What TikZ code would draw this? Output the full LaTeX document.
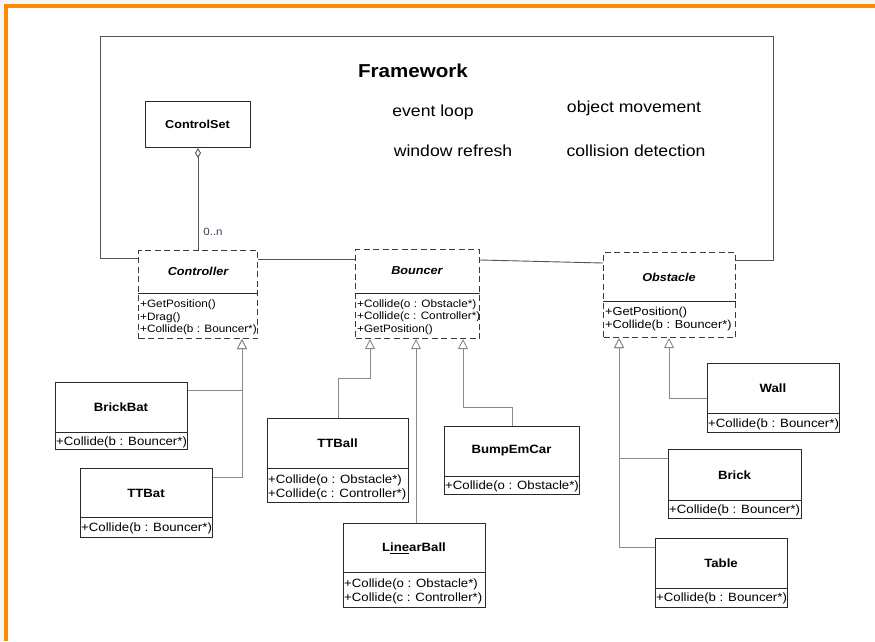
\documentclass[tikz,border=0pt]{standalone}
\usepackage{fontspec}
\setmainfont[FakeStretch=1.1]{Liberation Sans}
\usetikzlibrary{arrows.meta}
\definecolor{orng}{HTML}{FF8A00}
\definecolor{boxc}{HTML}{2A2A2A}
\definecolor{dashc}{HTML}{3A3A3A}
\definecolor{linec}{HTML}{8A8A8A}
\definecolor{framec}{HTML}{555555}
\definecolor{multc}{HTML}{3A3F55}
\definecolor{strip}{HTML}{F4F4F4}
\tikzset{
  cls/.style={draw=boxc, line width=1pt, fill=white, inner sep=0pt, anchor=north west},
  abscls/.style={draw=dashc, line width=1pt, dash pattern=on 6pt off 3.5pt, fill=white, inner sep=0pt, anchor=north west},
  divider/.style={draw=boxc, line width=1pt},
  ctitle/.style={font=\bfseries\fontsize{12}{13}\selectfont, inner sep=0pt},
  atitle/.style={font=\bfseries\itshape\fontsize{11.5}{13}\selectfont, inner sep=0pt},
  meth/.style={font=\fontsize{12}{13}\selectfont, anchor=base west, inner sep=0pt},
  ameth/.style={font=\fontsize{10.7}{13}\selectfont, anchor=base west, inner sep=0pt},
  ometh/.style={font=\fontsize{11.6}{13}\selectfont, anchor=base west, inner sep=0pt},
  inh/.style={draw=linec, line width=0.9pt, -{Triangle[open, length=10pt, width=10pt, fill=white]}},
  assoc/.style={draw=framec, line width=0.9pt},
  lbl/.style={font=\fontsize{16}{19}\selectfont, inner sep=0pt},
}
\begin{document}
\begin{tikzpicture}[x=1pt, y=-1pt]
\useasboundingbox (0,0) rectangle (875,641);
% background and orange slide border
\fill[strip] (0,0) rectangle (875,641);
\fill[white] (4,4) rectangle (875,641);
\fill[orng] (4,4) rectangle (875,7.5);
\fill[orng] (4,4) rectangle (7.5,641);

% class boxes
\node[cls, minimum width=105pt, minimum height=46pt] (controlset) at (145,101) {};
\node[ctitle, font=\bfseries\fontsize{11.5}{13}\selectfont] (controlsetT) at (197.5,124) {ControlSet};

\node[abscls, minimum width=119pt, minimum height=88pt] (controller) at (138,250) {};
\draw[divider] (controller.west |- 0,293) -- (controller.east |- 0,293);
\node[atitle] (controllerT) at (198,271) {Controller};
\node[ameth] (controllerM1) at (140,307.5) {+GetPosition()};
\node[ameth] (controllerM2) at (140,320) {+Drag()};
\node[ameth] (controllerM3) at (140,332.5) {+Collide(b : Bouncer*)};

\node[abscls, minimum width=124pt, minimum height=89pt] (bouncer) at (355,249) {};
\draw[divider] (bouncer.west |- 0,293) -- (bouncer.east |- 0,293);
\node[atitle] (bouncerT) at (417,271) {Bouncer};
\node[ameth] (bouncerM1) at (357,307) {+Collide(o : Obstacle*)};
\node[ameth] (bouncerM2) at (357,319.5) {+Collide(c : Controller*)};
\node[ameth] (bouncerM3) at (357,332) {+GetPosition()};

\node[abscls, minimum width=132pt, minimum height=85pt] (obstacle) at (603,252) {};
\draw[divider] (obstacle.west |- 0,301) -- (obstacle.east |- 0,301);
\node[atitle] (obstacleT) at (669,277) {Obstacle};
\node[ometh] (obstacleM1) at (605,315) {+GetPosition()};
\node[ometh] (obstacleM2) at (605,328) {+Collide(b : Bouncer*)};

\node[cls, minimum width=132pt, minimum height=67pt] (brickbat) at (55,382) {};
\draw[divider] (brickbat.west |- 0,432) -- (brickbat.east |- 0,432);
\node[ctitle] (brickbatT) at (121,407) {BrickBat};
\node[meth] (brickbatM) at (56,445) {+Collide(b : Bouncer*)};

\node[cls, minimum width=132pt, minimum height=69pt] (ttbat) at (80,468) {};
\draw[divider] (ttbat.west |- 0,517) -- (ttbat.east |- 0,517);
\node[ctitle] (ttbatT) at (146,493) {TTBat};
\node[meth] (ttbatM) at (81,531) {+Collide(b : Bouncer*)};

\node[cls, minimum width=141pt, minimum height=84pt] (ttball) at (267,418) {};
\draw[divider] (ttball.west |- 0,468) -- (ttball.east |- 0,468);
\node[ctitle] (ttballT) at (337.5,443) {TTBall};
\node[meth] (ttballM1) at (268,483.5) {+Collide(o : Obstacle*)};
\node[meth] (ttballM2) at (268,497.5) {+Collide(c : Controller*)};

\node[cls, minimum width=135pt, minimum height=68pt] (bumpemcar) at (444,426) {};
\draw[divider] (bumpemcar.west |- 0,476) -- (bumpemcar.east |- 0,476);
\node[ctitle] (bumpemcarT) at (511.5,451) {BumpEmCar};
\node[meth] (bumpemcarM) at (445,489.5) {+Collide(o : Obstacle*)};

\node[cls, minimum width=142pt, minimum height=84pt] (linearball) at (343,523) {};
\draw[divider] (linearball.west |- 0,572) -- (linearball.east |- 0,572);
\node[ctitle] (linearballT) at (414,548) {L\underline{ine}arBall};
\node[meth] (linearballM1) at (344,587.5) {+Collide(o : Obstacle*)};
\node[meth] (linearballM2) at (344,601.5) {+Collide(c : Controller*)};

\node[cls, minimum width=132pt, minimum height=69pt] (wall) at (707,363) {};
\draw[divider] (wall.west |- 0,413) -- (wall.east |- 0,413);
\node[ctitle] (wallT) at (773,388) {Wall};
\node[meth] (wallM) at (708,427) {+Collide(b : Bouncer*)};

\node[cls, minimum width=133pt, minimum height=69pt] (brick) at (668,449) {};
\draw[divider] (brick.west |- 0,500) -- (brick.east |- 0,500);
\node[ctitle] (brickT) at (734.5,475) {Brick};
\node[meth] (brickM) at (669,513.5) {+Collide(b : Bouncer*)};

\node[cls, minimum width=132pt, minimum height=69pt] (table) at (655,538) {};
\draw[divider] (table.west |- 0,588) -- (table.east |- 0,588);
\node[ctitle] (tableT) at (721,563) {Table};
\node[meth] (tableM) at (656,601.5) {+Collide(b : Bouncer*)};

% framework package outline
\coordinate (fBL) at (100,258);
\coordinate (fTL) at (100,36);
\coordinate (fTR) at (773,36);
\coordinate (fBR) at (773,260);
\draw[assoc] (controller.west |- fBL) -- (fBL) -- (fTL) -- (fTR) -- (fBR) -- (obstacle.east |- fBR);
\node[font=\bfseries\fontsize{18.7}{22}\selectfont, inner sep=0pt] (framework) at (413,71) {Framework};
\node[lbl] (evloop) at (433,112) {event loop};
\node[lbl] (objmov) at (634,108) {object movement};
\node[lbl] (winref) at (453,151) {window refresh};
\node[lbl] (coldet) at (636,151) {collision detection};

% associations
\draw[assoc] (controller.east |- 0,259) -- (bouncer.west |- 0,259);
\draw[assoc] (bouncer.east |- 0,260) -- (obstacle.west |- 0,263);
\draw[assoc, -{Diamond[open, length=10pt, width=6pt, fill=white]}] (controller.north -| 198,0) -- (controlset.south -| 198,0);
\node[font=\fontsize{10.5}{12}\selectfont, inner sep=0pt, text=multc] (mult) at (213,232) {0..n};

% inheritance
\draw[inh] (brickbat.east |- 0,390) -| (controller.south -| 242,0);
\draw[inh] (ttbat.east |- 0,477) -| (controller.south -| 242,0);
\draw[inh] (ttball.north -| 338,0) |- (370,378) -- (bouncer.south -| 370,0);
\draw[inh] (linearball.north -| 416,0) -- (bouncer.south -| 416,0);
\draw[inh] (bumpemcar.north -| 512,0) |- (463,407) -- (bouncer.south -| 463,0);
\draw[inh] (wall.west |- 0,398) -| (obstacle.south -| 669,0);
\draw[inh] (brick.west |- 0,458) -| (obstacle.south -| 619,0);
\draw[inh] (table.west |- 0,547) -| (obstacle.south -| 619,0);
\end{tikzpicture}
\end{document}
